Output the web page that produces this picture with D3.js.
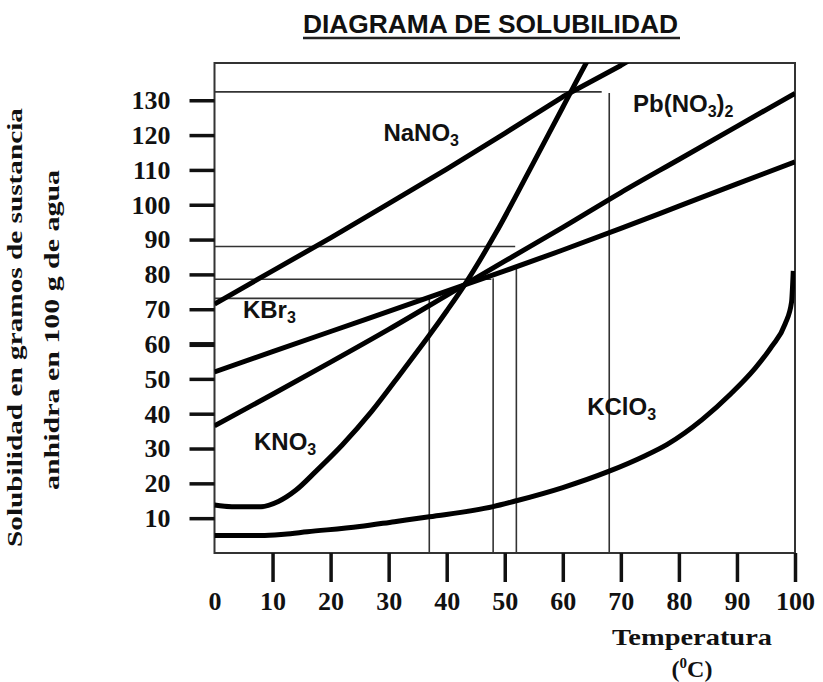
<!DOCTYPE html>
<html>
<head>
<meta charset="utf-8">
<script src="https://cdn.jsdelivr.net/npm/d3@7"></script>
<style>
  html, body { margin: 0; padding: 0; background: #fff; }
  svg { display: block; }
</style>
</head>
<body>
<svg id="chart" width="823" height="682"></svg>
<script>
// ---------- data ----------
const title = "DIAGRAMA DE SOLUBILIDAD";
const yTitle1 = "Solubilidad en gramos de sustancia";
const yTitle2 = "anhidra en 100 g de agua";
const xTitle = "Temperatura";

const xTicks = [0, 10, 20, 30, 40, 50, 60, 70, 80, 90, 100];
const yTicks = [10, 20, 30, 40, 50, 60, 70, 80, 90, 100, 110, 120, 130];

// NaNO3 (straight)
const nano3Temp = [0, 10, 20, 30, 40, 50, 60, 70, 72];
const nano3Sol  = [71.5, 81, 90.5, 100.3, 110.2, 120.5, 131, 140, 142];
// Pb(NO3)2
const pbTemp = [0, 10, 20, 30, 40, 50, 60, 70, 80, 90, 100];
const pbSol  = [36.5, 45.6, 54.8, 64.2, 74, 83.8, 93.5, 103.5, 113, 122.5, 132];
// KBr
const kbrTemp = [0, 10, 20, 30, 40, 50, 60, 70, 80, 90, 100];
const kbrSol  = [52, 57.8, 63.6, 69.4, 75.2, 81, 87, 93.2, 99.6, 106, 112.3];
// KNO3
const kno3Temp = [0, 3, 8, 11, 14, 17.5, 22, 27, 32.5, 37, 40, 43, 48.5, 54.3, 60, 64.4, 66];
const kno3Sol  = [13.8, 13.3, 13.3, 14.8, 18, 23.5, 31, 40.5, 52.5, 62.5, 69.5, 76.8, 92, 110, 128, 141.8, 146.5];
// KClO3
const kclo3Temp = [0, 8, 12, 16, 25, 31, 37, 48, 52, 60, 68, 74, 78, 84, 89, 93, 96, 98.3, 99.4, 99.7];
const kclo3Sol  = [5, 5, 5.4, 6.1, 7.6, 9, 10.4, 13.3, 15, 18.8, 23.5, 27.8, 31.2, 38.3, 45.8, 52.8, 59.3, 65.8, 72, 81];

// reference (reading) lines
const hRefSol  = [132.4, 88, 78.6, 73.1];
const hRefTemp = [66.7, 51.8, 47.7, 37];
const vRefTemp = [37, 48, 52, 68];
const vRefSol  = [73, 78.9, 82.5, 132.1];

// labels
const labelNames = ["NaNO", "KBr", "KNO", "KClO", "Pb(NO"];
const labelSubs  = ["3", "3", "3", "3", "3"];
const labelTails = ["", "", "", "", ")"];
const labelTailSubs = ["", "", "", "", "2"];
const labelTemp = [29.1, 4.9, 6.8, 64.2, 72.1];
const labelSol  = [118.2, 67.5, 29.6, 39.6, 126.6];

// ---------- layout ----------
const svg = d3.select("#chart");
const mLeft = 214.5, mRight = 795, mTop = 63, mBottom = 553;

const x = d3.scaleLinear().domain([0, 100]).range([mLeft, mRight]);
const y = d3.scaleLinear().domain([0, 140.7]).range([mBottom, mTop]);

svg.append("defs").append("clipPath").attr("id", "plotClip")
  .append("rect").attr("x", mLeft).attr("y", mTop)
  .attr("width", mRight - mLeft).attr("height", mBottom - mTop);

// title
svg.append("text")
  .attr("x", 303).attr("y", 33)
  .attr("textLength", 375).attr("lengthAdjust", "spacingAndGlyphs")
  .style("font-family", "'Liberation Sans', Arial, sans-serif")
  .style("font-weight", "bold").style("font-size", "25px")
  .attr("fill", "#111")
  .text(title);
svg.append("line").attr("x1", 303).attr("x2", 680).attr("y1", 38).attr("y2", 38)
  .attr("stroke", "#222").attr("stroke-width", 2.5);

// reference lines
const refG = svg.append("g").attr("stroke", "#333").attr("stroke-width", 1.6);
hRefSol.forEach((v, i) => {
  refG.append("line").attr("x1", x(0)).attr("x2", x(hRefTemp[i]))
    .attr("y1", y(v)).attr("y2", y(v));
});
vRefTemp.forEach((t, i) => {
  refG.append("line").attr("x1", x(t)).attr("x2", x(t))
    .attr("y1", y(vRefSol[i])).attr("y2", y(0));
});

// frame
svg.append("rect").attr("x", mLeft).attr("y", mTop)
  .attr("width", mRight - mLeft).attr("height", mBottom - mTop)
  .attr("fill", "none").attr("stroke", "#333").attr("stroke-width", 2);

// axes
const tickFont = "'Liberation Serif', 'Times New Roman', serif";
const yAxis = svg.append("g").attr("transform", `translate(${mLeft},0)`)
  .call(d3.axisLeft(y).tickValues(yTicks).tickSize(25).tickPadding(19).tickFormat(d3.format("d")));
yAxis.select(".domain").remove();
yAxis.selectAll(".tick line").attr("stroke", "#111").attr("stroke-width", d => d === 60 ? 5 : 3.5);
yAxis.selectAll(".tick text").attr("fill", "#111")
  .style("font-family", tickFont).style("font-weight", "bold").style("font-size", "26px");

const xAxis = svg.append("g").attr("transform", `translate(0,${mBottom})`)
  .call(d3.axisBottom(x).tickValues(xTicks).tickSize(29).tickPadding(10).tickFormat(d3.format("d")));
xAxis.select(".domain").remove();
xAxis.selectAll(".tick line").attr("stroke", "#111").attr("stroke-width", 3.5)
  .attr("display", d => d === 0 ? "none" : null);
xAxis.selectAll(".tick text").attr("fill", "#111")
  .style("font-family", tickFont).style("font-weight", "bold").style("font-size", "26px");

// axis titles
const titleFont = "'Liberation Serif', 'Times New Roman', serif";
svg.append("text").attr("transform", "translate(22,327.5) rotate(-90)")
  .attr("text-anchor", "middle")
  .attr("textLength", 439).attr("lengthAdjust", "spacingAndGlyphs")
  .style("font-family", titleFont).style("font-weight", "bold").style("font-size", "20px")
  .attr("fill", "#111").text(yTitle1);
svg.append("text").attr("transform", "translate(59,330) rotate(-90)")
  .attr("text-anchor", "middle")
  .attr("textLength", 320).attr("lengthAdjust", "spacingAndGlyphs")
  .style("font-family", titleFont).style("font-weight", "bold").style("font-size", "20px")
  .attr("fill", "#111").text(yTitle2);

svg.append("text").attr("x", 692).attr("y", 645).attr("text-anchor", "middle")
  .attr("textLength", 160).attr("lengthAdjust", "spacingAndGlyphs")
  .style("font-family", titleFont).style("font-weight", "bold").style("font-size", "24px")
  .attr("fill", "#111").text(xTitle);
const unit = svg.append("text").attr("x", 692).attr("y", 677).attr("text-anchor", "middle")
  .style("font-family", titleFont).style("font-weight", "bold").style("font-size", "24px")
  .attr("fill", "#111");
unit.append("tspan").text("(");
unit.append("tspan").attr("dy", -9).style("font-size", "15px").text("0");
unit.append("tspan").attr("dy", 9).text("C)");

// curves
const plot = svg.append("g").attr("clip-path", "url(#plotClip)");
function drawSeries(temps, sols, curve) {
  const pts = temps.map((t, i) => [t, sols[i]]);
  plot.append("path").datum(pts)
    .attr("fill", "none").attr("stroke", "#000").attr("stroke-width", 5)
    .attr("stroke-linejoin", "round")
    .attr("d", d3.line().x(d => x(d[0])).y(d => y(d[1])).curve(curve));
}
drawSeries(nano3Temp, nano3Sol, d3.curveLinear);
drawSeries(pbTemp, pbSol, d3.curveMonotoneX);
drawSeries(kbrTemp, kbrSol, d3.curveMonotoneX);
drawSeries(kno3Temp, kno3Sol, d3.curveMonotoneX);
drawSeries(kclo3Temp, kclo3Sol, d3.curveMonotoneX);

// labels
const labFont = "'Liberation Sans', Arial, sans-serif";
labelNames.forEach((n, i) => {
  const t = svg.append("text").attr("x", x(labelTemp[i])).attr("y", y(labelSol[i]))
    .style("font-family", labFont).style("font-weight", "bold").style("font-size", "24px")
    .attr("fill", "#111");
  t.append("tspan").text(n);
  t.append("tspan").attr("dy", 5).style("font-size", "16px").text(labelSubs[i]);
  if (labelTails[i]) {
    t.append("tspan").attr("dy", -5).text(labelTails[i]);
    t.append("tspan").attr("dy", 5).style("font-size", "16px").text(labelTailSubs[i]);
  }
});
</script>
</body>
</html>
